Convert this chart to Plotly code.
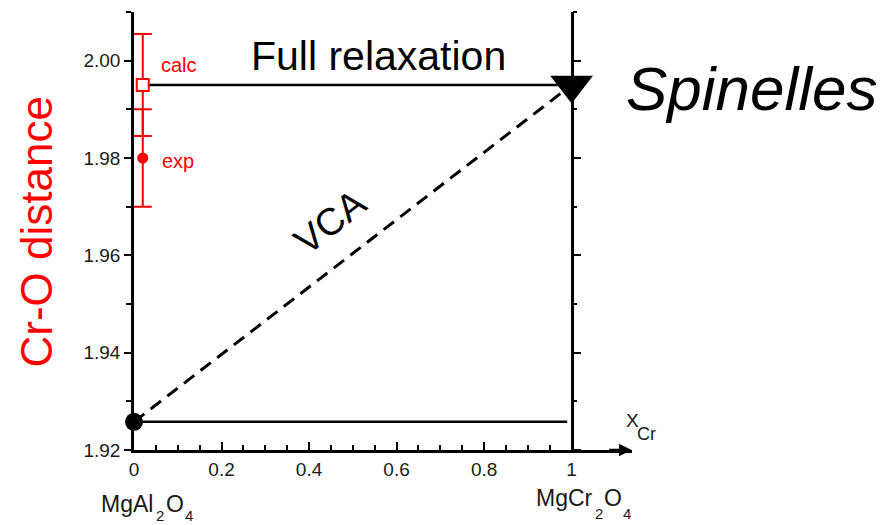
import plotly.graph_objects as go

# ---------------- data ----------------
calc_x = [0.02]
calc_y = [1.995]
calc_err = [0.0105]

exp_x = [0.02]
exp_y = [1.98]
exp_err = [0.01]

relax_x = [0.02, 1.0]
relax_y = [1.995, 1.995]

vca_x = [0.0, 1.0]
vca_y = [1.9258, 1.995]

base_x = [0.0, 0.99]
base_y = [1.9258, 1.9258]

mgal_x = [0.0]
mgal_y = [1.9258]

spin_x = [1.0]
spin_y = [1.995]

x_minor_vals = [0.05, 0.1, 0.15, 0.25, 0.3, 0.35, 0.45, 0.5, 0.55,
                0.65, 0.7, 0.75, 0.85, 0.9, 0.95]

# ---------------- figure ----------------
W, H = 884, 525
ML, MR, MT, MB = 134, 252, 12, 75
PW, PH = W - ML - MR, H - MT - MB
XMAX = 1.138
YR = [1.92, 2.01]
RED = "#ff0000"
FONT = "Arial, Liberation Sans, sans-serif"


def px(xp):
    return (xp - ML) / PW


def py(yp):
    return (H - MB - yp) / PH


fig = go.Figure()

fig.add_trace(go.Scatter(x=base_x, y=base_y, mode="lines",
                         line=dict(color="black", width=2.5), hoverinfo="skip"))
fig.add_trace(go.Scatter(x=vca_x, y=vca_y, mode="lines",
                         line=dict(color="black", width=3, dash="13px,8px"),
                         hoverinfo="skip"))
fig.add_trace(go.Scatter(x=relax_x, y=relax_y, mode="lines",
                         line=dict(color="black", width=2.5), hoverinfo="skip"))
fig.add_trace(go.Scatter(x=mgal_x, y=mgal_y, mode="markers", cliponaxis=False,
                         marker=dict(symbol="circle", size=18, color="black")))
fig.add_trace(go.Scatter(x=spin_x, y=spin_y, mode="markers", cliponaxis=False,
                         marker=dict(symbol="triangle-down", size=37, color="black")))
fig.add_trace(go.Scatter(x=exp_x, y=exp_y, mode="markers", cliponaxis=False,
                         error_y=dict(type="data", array=exp_err, color=RED,
                                      thickness=2, width=9),
                         marker=dict(symbol="circle", size=11, color=RED)))
fig.add_trace(go.Scatter(x=calc_x, y=calc_y, mode="markers", cliponaxis=False,
                         error_y=dict(type="data", array=calc_err, color=RED,
                                      thickness=2, width=9),
                         marker=dict(symbol="square", size=12, color="white",
                                     line=dict(color=RED, width=2))))
# dummy trace so the x = 1 axis is drawn
fig.add_trace(go.Scatter(x=[None], y=[None], yaxis="y2", showlegend=False))

tickfont = dict(family=FONT, size=19, color="#1a1a1a")

fig.update_layout(
    width=W, height=H,
    margin=dict(l=ML, r=MR, t=MT, b=MB),
    paper_bgcolor="white", plot_bgcolor="white",
    showlegend=False,
    font=dict(family=FONT, color="black"),
    xaxis=dict(range=[0, XMAX], domain=[0, 1], showline=True, linecolor="black",
               linewidth=2.5, showgrid=False, zeroline=False,
               ticks="inside", ticklen=8, tickwidth=2, tickcolor="black",
               tick0=0, dtick=0.2, tickfont=tickfont,
               minor=dict(tickmode="array", tickvals=x_minor_vals, ticks="inside",
                          ticklen=5, tickwidth=2, tickcolor="black")),
    yaxis=dict(range=YR, showline=True, linecolor="black", linewidth=2.5,
               showgrid=False, zeroline=False, ticks="outside", ticklen=7,
               tickwidth=2, tickcolor="black", tick0=1.92, dtick=0.02,
               tickformat=".2f", tickfont=tickfont,
               minor=dict(tick0=1.92, dtick=0.01, ticks="outside", ticklen=5,
                          tickwidth=2, tickcolor="black")),
    yaxis2=dict(range=YR, overlaying="y", anchor="free", position=1 / XMAX,
                side="right", showline=True, linecolor="black", linewidth=2.5,
                showgrid=False, zeroline=False, ticks="outside", ticklen=8,
                tickwidth=2, tickcolor="black", tick0=1.92, dtick=0.02,
                showticklabels=False,
                minor=dict(tick0=1.92, dtick=0.01, ticks="outside", ticklen=4,
                           tickwidth=2, tickcolor="black")),
)

ann = []
# x-axis arrow head
ann.append(dict(xref="x", yref="y", x=1.137, y=1.92, ax=-24, ay=0, text="",
                showarrow=True, arrowhead=2, arrowsize=1, arrowwidth=2.5,
                arrowcolor="black"))
ann.append(dict(xref="x", yref="y", x=0.5594, y=2.00104, text="Full relaxation",
                xanchor="center", yanchor="middle",
                showarrow=False, font=dict(size=41, color="black")))
ann.append(dict(xref="paper", yref="paper", x=px(752), y=py(88.3),
                xanchor="center", yanchor="middle",
                text="<i>Spinelles</i>", showarrow=False,
                font=dict(size=62, color="black")))
ann.append(dict(xref="x", yref="y", x=0.448, y=1.9668, text="VCA", textangle=-38,
                xanchor="center", yanchor="middle",
                showarrow=False, font=dict(size=38, color="black")))
ann.append(dict(xref="paper", yref="paper", x=px(36), y=py(232.5),
                xanchor="center", yanchor="middle",
                text="Cr-O distance", textangle=-90, showarrow=False,
                font=dict(size=44, color=RED)))
ann.append(dict(xref="x", yref="y", x=0.057, y=1.9992, xanchor="left",
                yanchor="middle",
                text="calc", showarrow=False, font=dict(size=20, color=RED)))
ann.append(dict(xref="x", yref="y", x=0.059, y=1.9793, xanchor="left",
                yanchor="middle",
                text="exp", showarrow=False, font=dict(size=20, color=RED)))


def piece(text, left, baseline, size):
    ann.append(dict(xref="paper", yref="paper", x=px(left),
                    y=py(baseline - 0.35 * size), xanchor="left", yanchor="middle",
                    text=text, showarrow=False, borderpad=0,
                    font=dict(size=size, color="#1a1a1a")))


piece("X", 625, 427, 19)
piece("Cr", 636, 440, 18)
piece("MgAl", 100, 511.7, 23)
piece("2", 155, 521, 15)
piece("O", 165, 511.7, 23)
piece("4", 183.5, 521, 15)
piece("MgCr", 535, 506, 23)
piece("2", 594, 519, 15)
piece("O", 603, 506, 23)
piece("4", 622, 519, 15)

fig.update_layout(annotations=ann)
fig.write_html("out.html")
